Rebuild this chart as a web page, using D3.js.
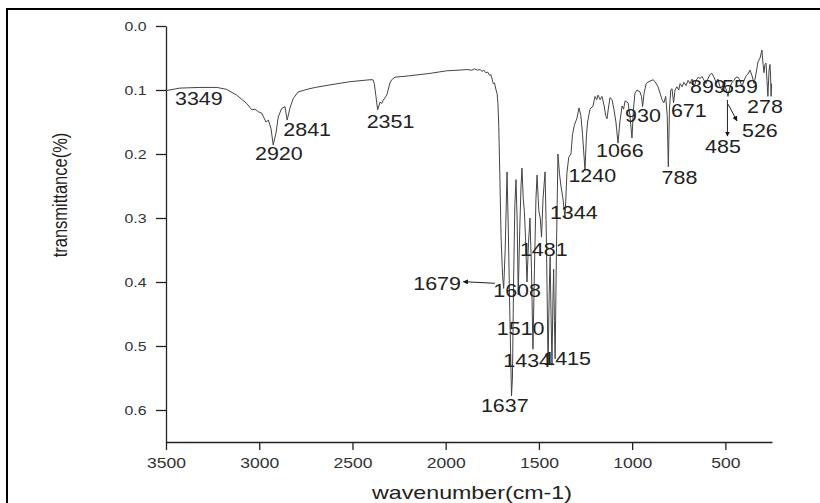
<!DOCTYPE html>
<html>
<head>
<meta charset="utf-8">
<script src="https://cdn.jsdelivr.net/npm/d3@7"></script>
<style>
  body { margin: 0; background: #fff; }
  text { font-family: "Liberation Sans", Arial, sans-serif; }
</style>
</head>
<body>
<div id="chart"></div>
<script>
/* Global variables */
const width = 820;
const height = 503;

// the source image is stretched horizontally, so text is too
const stretch = 1.17;

// Spectrum: [wavenumber, transmittance]
const spectrumHigh = [
  [3500, 0.101], [3425, 0.097], [3318, 0.096], [3227, 0.096], [3175, 0.099],
  [3121, 0.108], [3067, 0.121], [3040, 0.131], [3023, 0.13], [3005, 0.134],
  [2987, 0.136], [2964, 0.15], [2951, 0.147], [2937, 0.16], [2925, 0.186],
  [2910, 0.167], [2898, 0.142], [2880, 0.129], [2862, 0.126], [2850, 0.147],
  [2835, 0.128], [2817, 0.113], [2791, 0.103], [2744, 0.099], [2700, 0.096],
  [2620, 0.092], [2513, 0.087], [2406, 0.084], [2390, 0.084], [2383, 0.09],
  [2374, 0.11], [2365, 0.131], [2352, 0.119], [2343, 0.121], [2335, 0.116],
  [2316, 0.108], [2299, 0.089], [2290, 0.084], [2272, 0.08], [2200, 0.078],
  [2084, 0.074], [1995, 0.07], [1930, 0.069], [1887, 0.068], [1860, 0.069],
  [1845, 0.067], [1830, 0.069], [1816, 0.068], [1805, 0.071], [1795, 0.069],
  [1785, 0.073], [1775, 0.072], [1765, 0.077], [1758, 0.076], [1750, 0.084],
  [1745, 0.09], [1738, 0.089], [1730, 0.1], [1724, 0.106], [1720, 0.12],
];

const spectrumBands = [
  [1716, 0.15], [1712, 0.2], [1703, 0.33], [1695, 0.39], [1689, 0.41],
  [1681, 0.35], [1671, 0.228], [1664, 0.32], [1656, 0.45], [1647, 0.578],
  [1642, 0.55], [1636, 0.4], [1629, 0.28], [1623, 0.24], [1617, 0.3],
  [1611, 0.42], [1603, 0.32], [1596, 0.25], [1591, 0.222], [1584, 0.27],
  [1578, 0.29], [1572, 0.33], [1564, 0.4], [1556, 0.34], [1548, 0.3],
  [1540, 0.38], [1532, 0.505], [1524, 0.38], [1516, 0.27], [1510, 0.233],
  [1504, 0.27], [1500, 0.29], [1493, 0.3], [1486, 0.33], [1478, 0.27],
  [1467, 0.228], [1460, 0.33], [1451, 0.53], [1445, 0.42], [1440, 0.36],
  [1435, 0.45], [1430, 0.53], [1425, 0.43], [1421, 0.38], [1417, 0.46],
  [1413, 0.52], [1406, 0.35], [1398, 0.2], [1390, 0.23], [1382, 0.25],
  [1371, 0.27], [1360, 0.3], [1350, 0.23], [1340, 0.205], [1328, 0.2],
  [1320, 0.17], [1310, 0.155], [1296, 0.144],
];

const spectrumFinger = [
  [1285, 0.128], [1275, 0.14], [1266, 0.17], [1253, 0.225], [1245, 0.17],
  [1239, 0.15], [1226, 0.13], [1210, 0.125], [1199, 0.11], [1190, 0.115],
  [1183, 0.108], [1172, 0.115], [1162, 0.11], [1150, 0.125], [1142, 0.14],
  [1135, 0.145], [1128, 0.13], [1119, 0.112], [1108, 0.115], [1098, 0.13],
  [1087, 0.15], [1076, 0.183], [1066, 0.15], [1054, 0.125], [1046, 0.13],
  [1038, 0.117], [1022, 0.12], [1012, 0.14], [1001, 0.175], [993, 0.13],
  [985, 0.105], [974, 0.1], [958, 0.103], [950, 0.11], [944, 0.126],
  [936, 0.105], [925, 0.09], [915, 0.0875], [904, 0.086], [888, 0.084],
  [877, 0.087], [861, 0.095], [850, 0.105], [840, 0.115], [830, 0.12],
  [820, 0.11], [812, 0.14], [806, 0.22], [800, 0.13], [793, 0.1],
  [786, 0.098], [778, 0.12], [770, 0.1], [760, 0.095], [750, 0.1],
  [743, 0.09], [732, 0.095], [722, 0.088], [711, 0.093], [700, 0.085],
  [690, 0.09], [679, 0.083], [668, 0.095], [657, 0.085], [646, 0.08],
  [636, 0.082], [625, 0.079], [614, 0.085], [604, 0.09], [593, 0.082],
  [583, 0.076], [572, 0.074], [561, 0.08], [550, 0.088], [540, 0.083],
  [529, 0.095], [518, 0.1], [507, 0.093], [497, 0.098], [486, 0.11],
  [475, 0.095], [464, 0.088], [454, 0.085], [443, 0.08], [432, 0.08],
  [422, 0.085], [411, 0.095], [400, 0.085], [389, 0.078], [379, 0.075],
  [368, 0.069], [357, 0.078], [346, 0.09], [336, 0.075], [325, 0.056],
  [314, 0.05], [304, 0.0375], [298, 0.06], [293, 0.073], [288, 0.06],
  [282, 0.058], [277, 0.085], [272, 0.11], [266, 0.07], [261, 0.06],
  [258, 0.075], [255, 0.11], [252, 0.09],
];

// Peak labels: text, and its left/baseline corner in data units
const peakLabels = [
  ['3349', 3452, 0.1234], ['2920', 3023, 0.2094], ['2841', 2871, 0.1719],
  ['2351', 2424, 0.1594], ['1679', 2174, 0.4125], ['1608', 1745, 0.4234],
  ['1510', 1726, 0.4828], ['1434', 1691, 0.5328], ['1415', 1477, 0.5297],
  ['1637', 1811, 0.6031], ['1481', 1602, 0.3586], ['1344', 1441, 0.3016],
  ['1240', 1342, 0.2438], ['1066', 1194, 0.2047], ['930', 1038, 0.15],
  ['788', 842, 0.2469], ['671', 792, 0.1422], ['899', 690, 0.1047],
  ['559', 518, 0.1047], ['278', 384, 0.1359], ['526', 411, 0.1734],
  ['485', 609, 0.1984],
];

// Arrows: [from wn, from T, to wn, to T]
const arrows = [
  [1736, 0.402, 1905, 0.3995],
  [489, 0.1156, 489, 0.1719],
  [486, 0.122, 438, 0.148],
];

const xMajor = [3500, 3000, 2500, 2000, 1500, 1000, 500];
const xMinor = [3250, 2750, 2250, 1750, 1250, 750, 250];
const yMajor = [0, 0.1, 0.2, 0.3, 0.4, 0.5, 0.6];
const yMinor = [0.05, 0.15, 0.25, 0.35, 0.45, 0.55, 0.65];

const spectrum = [...spectrumHigh, ...spectrumBands, ...spectrumFinger];

// Scales
const x = d3.scaleLinear().domain([3500, 250]).range([166, 772]);
const y = d3.scaleLinear().domain([0, 0.65]).range([26, 442]);

const svg = d3
  .select('#chart')
  .append('svg')
  .attr('width', width)
  .attr('height', height);

svg.append('rect').attr('width', width).attr('height', height).attr('fill', '#fff');

// frame of the picture
svg.append('path')
  .attr('d', `M7,${height} V9 H${width}`)
  .attr('fill', 'none')
  .attr('stroke', '#000')
  .attr('stroke-width', 2);

const defs = svg.append('defs');
defs.append('marker')
  .attr('id', 'head')
  .attr('viewBox', '0 0 10 10')
  .attr('refX', 9)
  .attr('refY', 5)
  .attr('markerWidth', 5)
  .attr('markerHeight', 5)
  .attr('markerUnits', 'userSpaceOnUse')
  .attr('orient', 'auto')
  .append('path')
  .attr('d', 'M0,0 L10,5 L0,10 z')
  .attr('fill', '#111');

// Axes
const axisColor = '#222';

const xAxis = svg.append('g').attr('transform', `translate(0,${y(0.65)})`);
xAxis.call(d3.axisBottom(x).tickValues(xMinor).tickSize(4).tickFormat('').tickSizeOuter(0));
xAxis.call(
  d3.axisBottom(x).tickValues(xMajor).tickSize(8).tickPadding(7)
    .tickFormat(d3.format('d')).tickSizeOuter(0)
);
xAxis.selectAll('path, line').attr('stroke', axisColor).attr('stroke-width', 1.3);
xAxis.selectAll('text')
  .attr('font-size', 15)
  .attr('fill', '#333')
  .attr('font-family', '"Liberation Sans", Arial, sans-serif')
  .attr('transform', `scale(${stretch},1)`);

const yAxis = svg.append('g').attr('transform', `translate(${x(3500)},0)`);
yAxis.call(d3.axisLeft(y).tickValues(yMinor).tickSize(5).tickFormat('').tickSizeOuter(0));
yAxis.call(d3.axisLeft(y).tickValues(yMajor).tickSize(10).tickFormat(d3.format('.1f')).tickSizeOuter(0));
yAxis.selectAll('path, line').attr('stroke', axisColor).attr('stroke-width', 1.3);
yAxis.selectAll('text')
  .attr('font-size', 13)
  .attr('fill', '#333')
  .attr('font-family', '"Liberation Sans", Arial, sans-serif')
  .attr('x', -19.5 / 1.22)
  .attr('transform', 'scale(1.22,1)');

// Axis titles
svg.append('g')
  .attr('transform', `translate(472,499) scale(1.29,1)`)
  .append('text')
  .attr('text-anchor', 'middle')
  .attr('font-size', 18)
  .attr('fill', '#222')
  .text('wavenumber(cm-1)');

svg.append('g')
  .attr('transform', `translate(67,195) scale(${stretch},1) rotate(-90)`)
  .append('text')
  .attr('text-anchor', 'middle')
  .attr('font-size', 16.5)
  .attr('fill', '#222')
  .text('transmittance(%)');

// Spectrum
const line = d3.line().x((d) => x(d[0])).y((d) => y(d[1]));

svg.append('path')
  .datum(spectrum)
  .attr('d', line)
  .attr('fill', 'none')
  .attr('stroke', '#444')
  .attr('stroke-width', 1)
  .attr('stroke-linejoin', 'round');

// Arrows
svg.selectAll('line.arrow')
  .data(arrows)
  .join('line')
  .classed('arrow', true)
  .attr('x1', (d) => x(d[0]))
  .attr('y1', (d) => y(d[1]))
  .attr('x2', (d) => x(d[2]))
  .attr('y2', (d) => y(d[3]))
  .attr('stroke', '#222')
  .attr('stroke-width', 1)
  .attr('marker-end', 'url(#head)');

// Peak labels
svg.selectAll('g.peak')
  .data(peakLabels)
  .join('g')
  .classed('peak', true)
  .attr('transform', (d) => `translate(${x(d[1])},${y(d[2])}) scale(1.13,1)`)
  .append('text')
  .attr('font-size', 19)
  .attr('fill', '#222')
  .text((d) => d[0]);
</script>
</body>
</html>
